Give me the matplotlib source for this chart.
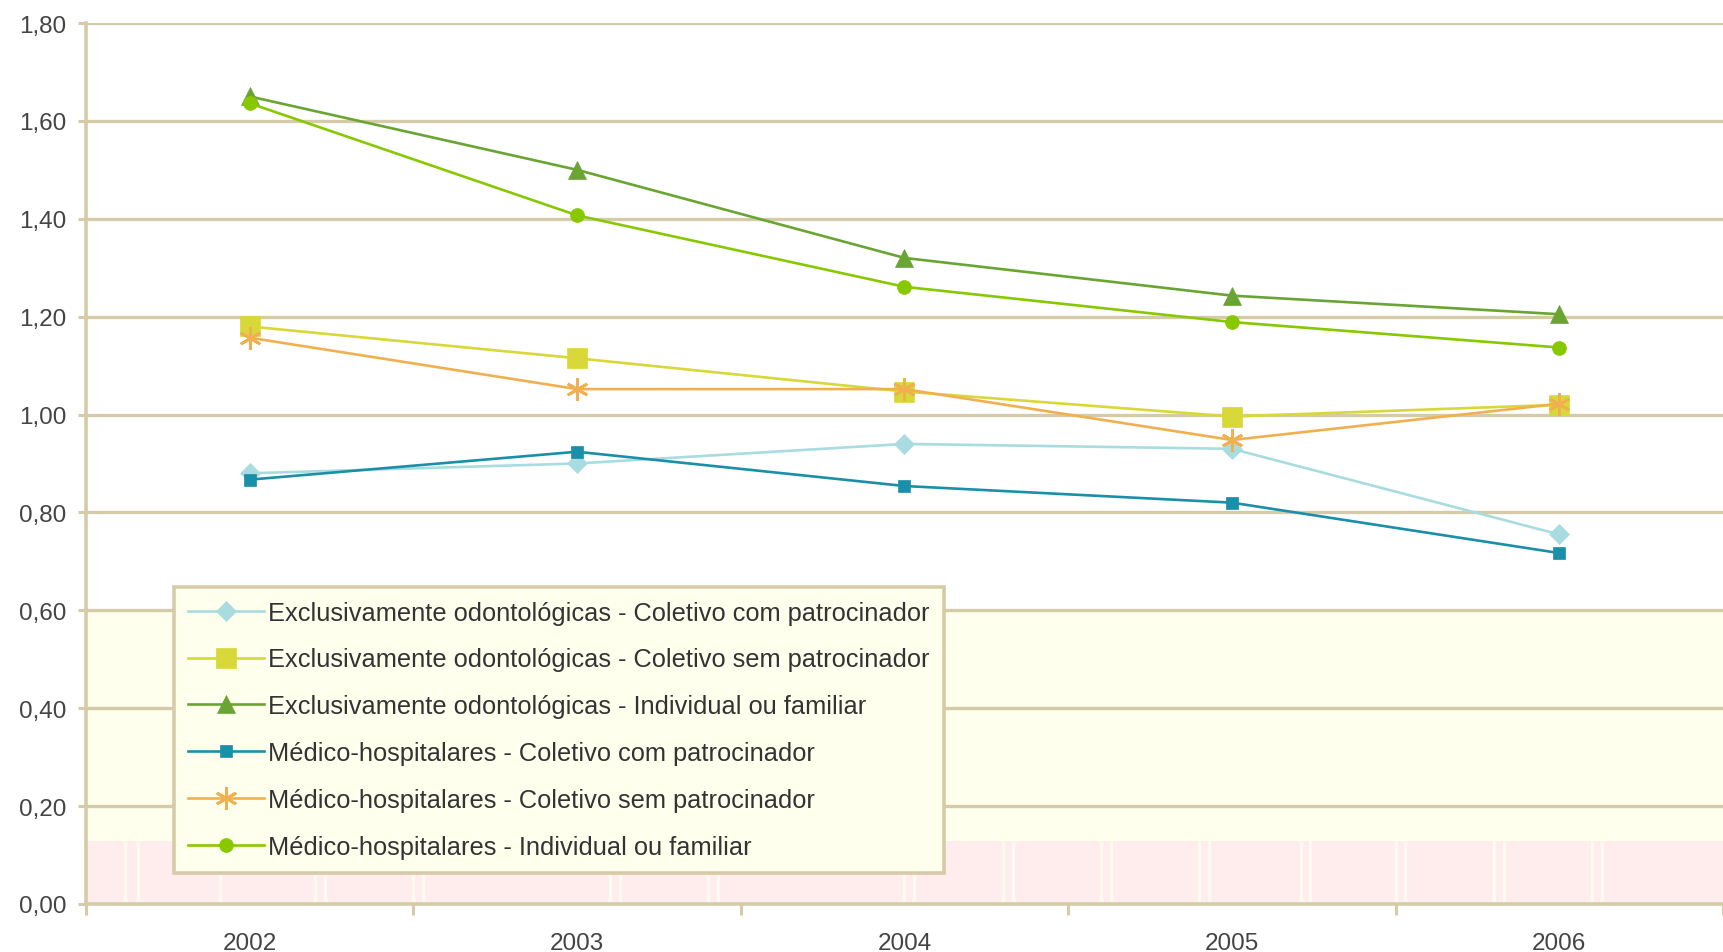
import matplotlib
matplotlib.use("Agg")
import matplotlib.pyplot as plt
from matplotlib.ticker import FixedLocator

plt.rcParams['font.family'] = ['Liberation Sans', 'DejaVu Sans']

years = ['2002', '2003', '2004', '2005', '2006']
labels = [
    'Exclusivamente odontológicas - Coletivo com patrocinador',
    'Exclusivamente odontológicas - Coletivo sem patrocinador',
    'Exclusivamente odontológicas - Individual ou familiar',
    'Médico-hospitalares - Coletivo com patrocinador',
    'Médico-hospitalares - Coletivo sem patrocinador',
    'Médico-hospitalares - Individual ou familiar',
]
odonto_col_com = [0.88, 0.90, 0.94, 0.93, 0.755]
odonto_col_sem = [1.18, 1.115, 1.047, 0.996, 1.02]
odonto_ind = [1.65, 1.50, 1.32, 1.243, 1.205]
medico_col_com = [0.867, 0.924, 0.854, 0.820, 0.717]
medico_col_sem = [1.157, 1.052, 1.052, 0.948, 1.022]
medico_ind = [1.636, 1.407, 1.261, 1.189, 1.137]
series = [odonto_col_com, odonto_col_sem, odonto_ind, medico_col_com, medico_col_sem, medico_ind]
ytick_vals = [0, 0.2, 0.4, 0.6, 0.8, 1.0, 1.2, 1.4, 1.6, 1.8]
ytick_labels = ['0,00', '0,20', '0,40', '0,60', '0,80', '1,00', '1,20', '1,40', '1,60', '1,80']

colors = ['#A8DCE0', '#D8D838', '#6AA533', '#1A8FA8', '#F0B050', '#88C800']
markers = ['D', 's', '^', 's', (6, 2, 0), 'o']
msizes = [10, 14, 13, 8, 16, 10]

grid_c = '#D6CBA8'
fig = plt.figure(figsize=(17.23, 9.53), dpi=100)
ax = fig.add_axes([0.0499, 0.0504, 0.9501, 0.9244])
ax.set_xlim(-0.5, 4.5)
ax.set_ylim(0, 1.80)

# background bands
ax.axhspan(0.128, 0.60, color='#FFFFEE', zorder=0, lw=0)
ax.axhspan(0.0, 0.128, color='#FFECEC', zorder=0, lw=0)
stripe_x = [-0.38, -0.34, -0.09, 0.20, 0.23, 0.50, 0.53, 1.10, 1.13, 1.40, 1.43,
            2.00, 2.03, 2.30, 2.33, 2.60, 2.63, 2.90, 2.93, 3.21, 3.24, 3.50, 3.53, 3.80, 3.83, 4.10, 4.13]
for sx in stripe_x:
    ax.plot([sx, sx], [0, 0.128], color='#FFFAF0', lw=2.5, zorder=0.5, solid_capstyle='butt')

for v in ytick_vals[1:]:
    ax.axhline(v, color=grid_c, lw=2.4, zorder=1)

x = list(range(len(years)))
for s, lab, c, m, ms in zip(series, labels, colors, markers, msizes):
    ax.plot(x, s, color=c, marker=m, markersize=ms, lw=1.9, label=lab, zorder=3,
            markeredgecolor=c, markeredgewidth=2.0 if isinstance(m, tuple) else 0.5)

for sp in ['top', 'right']:
    ax.spines[sp].set_visible(False)
for sp in ['left', 'bottom']:
    ax.spines[sp].set_color(grid_c)
    ax.spines[sp].set_linewidth(2.6)

ax.set_yticks(ytick_vals)
ax.set_yticklabels(ytick_labels)
ax.tick_params(axis='y', length=6, width=2.2, color=grid_c, labelsize=17.5, labelcolor='#444444', pad=8)

ax.set_xticks(x)
ax.set_xticklabels(years)
ax.xaxis.set_minor_locator(FixedLocator([-0.5, 0.5, 1.5, 2.5, 3.5, 4.5]))
ax.tick_params(axis='x', which='major', length=0, labelsize=17.5, labelcolor='#444444', pad=20)
ax.tick_params(axis='x', which='minor', length=8, width=2.2, color=grid_c)

leg = ax.legend(loc='lower left', bbox_to_anchor=(0.101, 0.083), bbox_transform=fig.transFigure,
                borderaxespad=0, fontsize=18.3, frameon=True, fancybox=False,
                handlelength=3.0, handletextpad=0.15, labelspacing=0.9, borderpad=0.55)
fr = leg.get_frame()
fr.set_facecolor('#FFFFEE')
fr.set_edgecolor(grid_c)
fr.set_linewidth(2.6)
fr.set_alpha(1)
for t in leg.get_texts():
    t.set_color('#333333')
leg.set_zorder(5)

fig.savefig('out.png', dpi=100)
